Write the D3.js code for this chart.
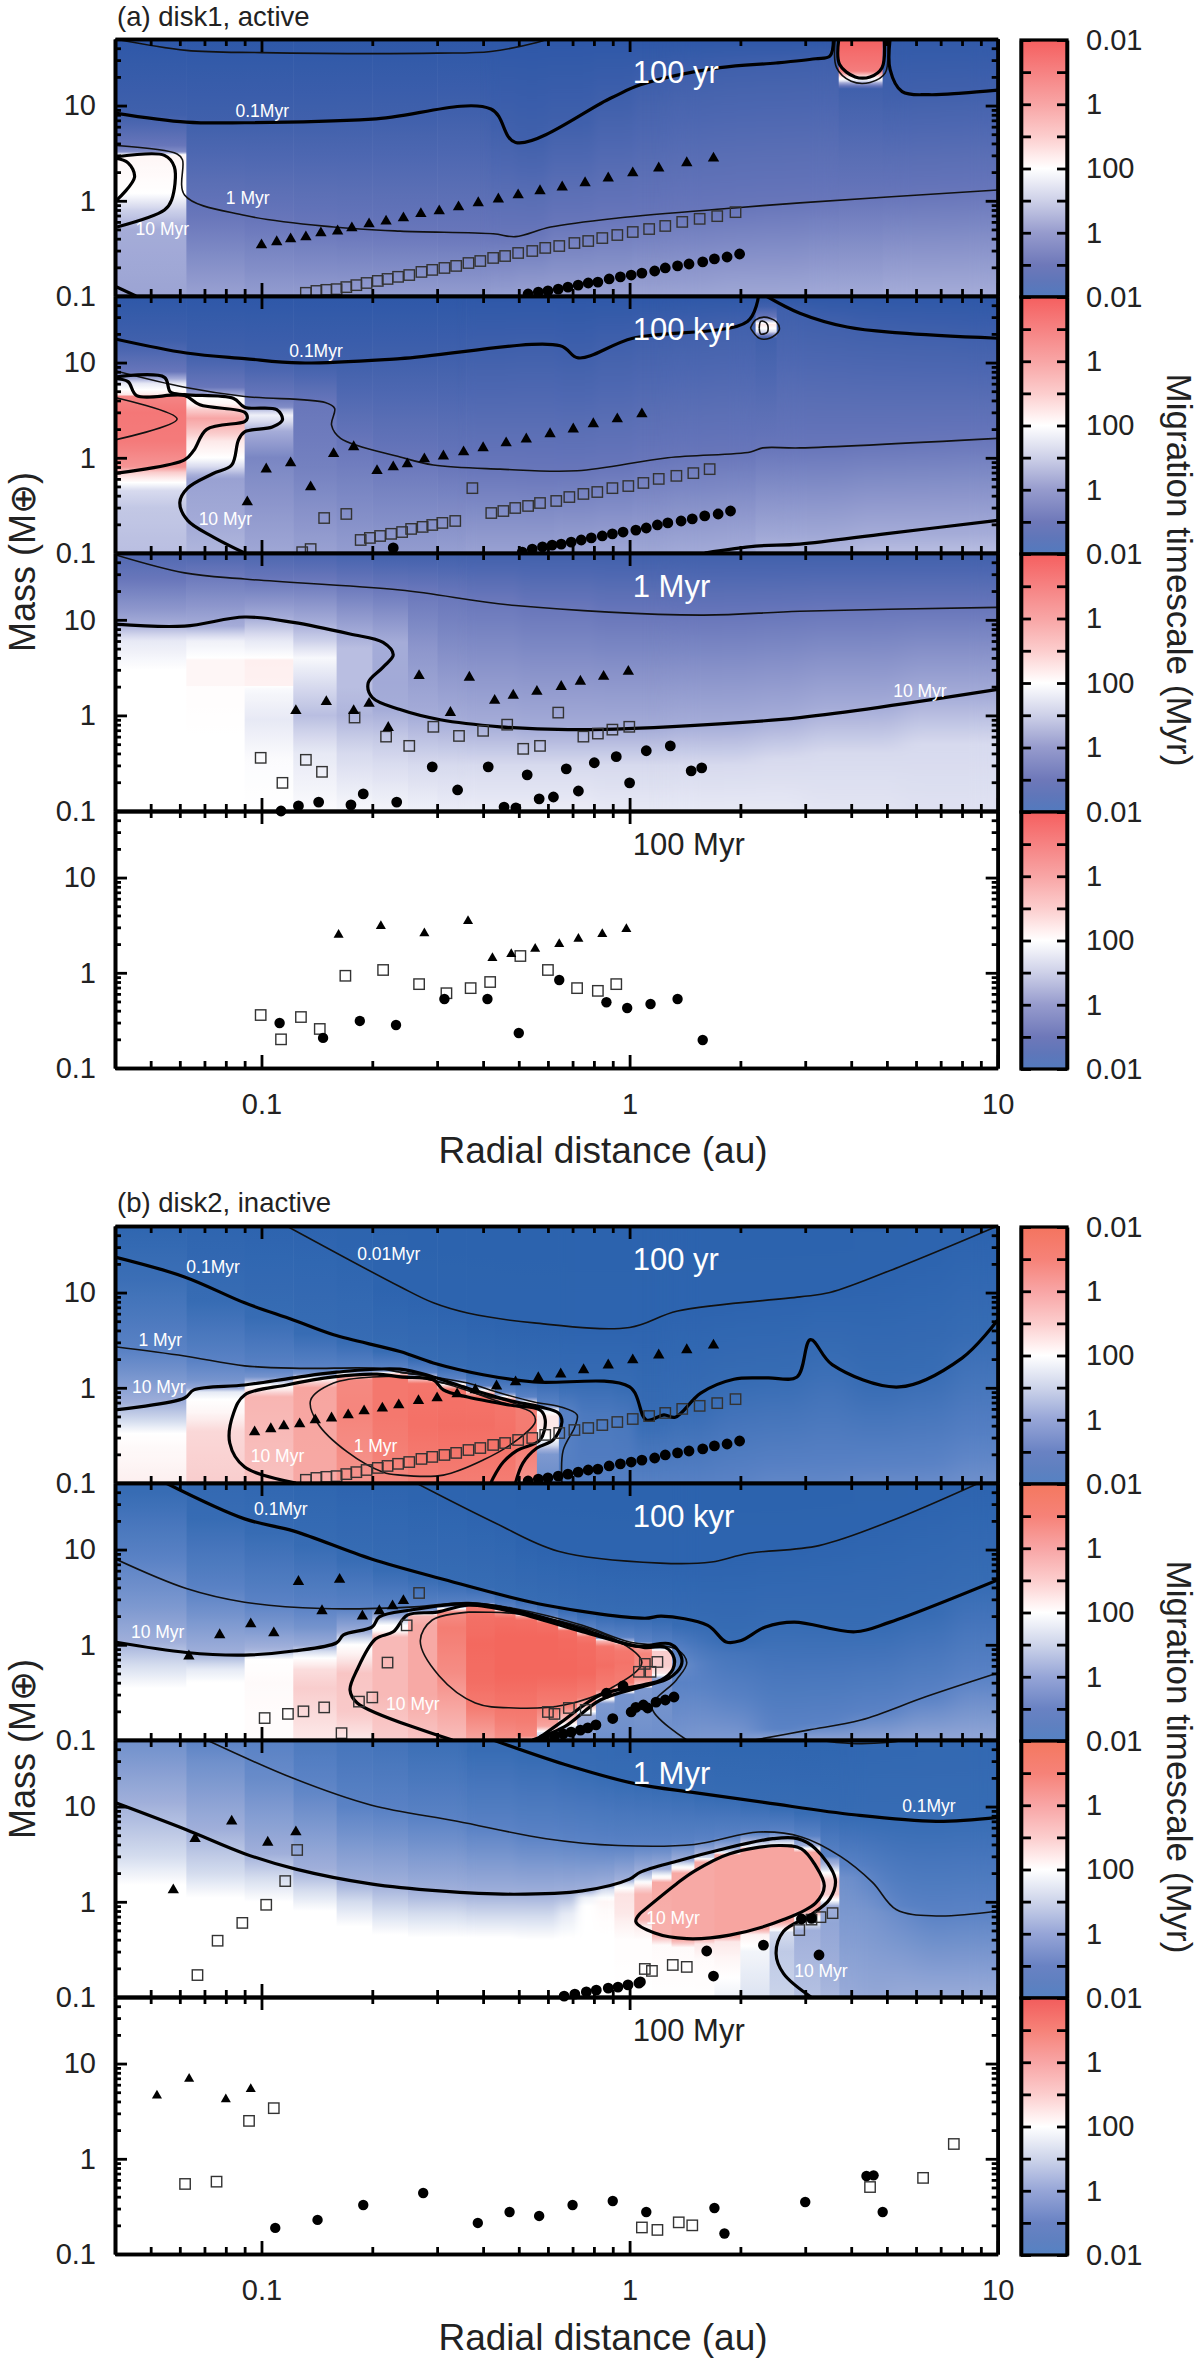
<!DOCTYPE html>
<html><head><meta charset="utf-8">
<script src="https://cdnjs.cloudflare.com/ajax/libs/d3/7.8.5/d3.min.js"></script>
<style>html,body{margin:0;background:#fff}svg{display:block}text{font-family:"Liberation Sans",Arial,sans-serif}</style>
</head><body><div id="c"></div>
<script>
// ---- axis values
const xMajor=[0.1,1,10], xMinor=[.05,.06,.07,.08,.09,.2,.3,.4,.5,.6,.7,.8,.9,2,3,4,5,6,7,8,9];
const yMajor=[0.1,1,10], yMinor=[.2,.3,.4,.5,.6,.7,.8,.9,2,3,4,5,6,7,8,9,20,30,40];
const barTicks=[4,3,2,1,0,-1,-2,-3,-4], barLabels={4:"0.01",2:"1",0:"100","-2":"1","-4":"0.01"};
// ---- colour scale: q = signed (2 - log10 T[Myr]); q>0 outward, q<0 inward
const qNodes=[-5,-4,-3,-2,-1,-.5,0,.5,1,2,3,4];
const qColorsA=["#2c57a6","#2e58a8","#4060ac","#6876ba","#a5acd8","#d7daee","#ffffff","#fde8e8","#facdcd","#f7a5a5","#f47d7d","#f46060"];
const qColorsB=["#2b62ac","#2d64af","#376cb4","#5a82c5","#a0afda","#d4dcee","#ffffff","#fce8e8","#f9cdcd","#f7a5a0","#f47d73","#f3645a"];
const barQ=[-4,-3.5,-3,-2,-1,0,.3,1,2,3,4];
const barA=["#527abe","#5f76b9","#6e78b9","#969bcd","#cdd0e8","#ffffff","#fff0f0","#fccdcd","#f8a5a5","#f68282"];
const barB=["#5582c3","#5f80c0","#6982c3","#96a5d7","#cdd4ea","#ffffff","#fff0f0","#fccdcd","#f8a5a5","#f68278"];
const barTopA=["#f55f5f","#f55f5f","#f55f5f","#f55f5f"], barTopB=["#f4745f","#f4785f","#f4785f","#f25c5c"];

// ---- heat-map columns: edges in au, each column = [mass, q, mass, q, ...]
const a1Edges=[.04,.0625,.09,.122,.16,.2,.3,.42,.49,.6,.8,1.03,1.3,1.7,2.2,3,3.7,4.85,6,8,10];
const a1Cols=[
[.1,-1.15,.5,-1,.8,-.6,1.2,0,3,.2,3.3,-1.6,3.8,-2,8,-3,50,-4],
[.1,-1.2,.7,-2,6.7,-3,50,-4],[.1,-1.3,.62,-2,6.8,-3,50,-4],[.1,-1.3,.54,-2,7,-3,50,-4],[.1,-1.3,.5,-2,7.2,-3,50,-4],
[.1,-1.3,.48,-2,7.5,-3,50,-4],[.1,-1.3,.46,-2,8.5,-3,50,-4],[.1,-1.25,.43,-2,6,-3,50,-4],[.1,-1.2,.44,-2,4.5,-3,50,-4],
[.1,-1.2,.58,-2,6.5,-3,50,-4],[.1,-1.2,.66,-2,10.5,-3,50,-4],[.1,-1.15,.7,-2,16,-3,50,-4],[.1,-1.15,.77,-2,21,-3,50,-4],
[.1,-1.1,.84,-2,25,-3,50,-4],[.1,-1.1,.92,-2,27,-3,50,-4],[.1,-1.05,1,-2,29,-3,50,-4],
[.1,-1.05,1.05,-2,15,-3,18,-.5,20,.5,23,3,50,4],[.1,-1,1.1,-2,13,-3,50,-3.8],[.1,-1,1.15,-2,14,-3,50,-3.8],[.1,-1,1.25,-2,15,-3,50,-3.8]];
const a2Edges=[.04,.0625,.09,.122,.16,.2,.3,.36,.49,.64,.81,1.03,1.3,1.7,2.2,2.5,3,4,5.5,7.5,10];
const a2Cols=[
[.1,-.8,.3,-.7,.45,-.5,.55,0,.7,1,.8,2.4,1.5,3.1,3,3.2,4.4,2.8,4.6,.5,5.2,0,6,-.3,7,-1.2,8,-2,17,-3,50,-4],
[.1,-.9,.6,-1.2,.8,-.5,1,0,1.5,.5,2.2,1.6,2.6,2,3.2,1,3.7,.2,4.3,0,4.6,-1,5.5,-2,12.6,-3,50,-4],
[.1,-1.1,1,-1.7,1.9,-1,2.4,-.5,2.8,-.2,3.2,-.8,3.4,-1.6,4.4,-2,11,-3,50,-4],
[.1,-1.2,.8,-1.8,3.8,-2,9.9,-3,50,-4],[.1,-1.3,1.4,-2,10,-3,50,-4],[.1,-1.3,1,-2,11,-3,50,-4],[.1,-1.25,.82,-2,11.5,-3,50,-4],
[.1,-1.2,.77,-2,13,-3,50,-4],[.1,-1.2,.74,-2,14,-3,50,-4],[.1,-1.15,.73,-2,11.8,-3,50,-4],[.1,-1.1,.8,-2,16,-3,50,-4],
[.1,-1.1,.98,-2,20,-3,50,-4],[.1,-1.05,1.05,-2,23,-3,50,-4],[.1,-1,1.13,-2,27,-3,50,-4],
[.1,-.9,1.27,-2,18,-3,21,-.5,25,.5,30,-2,50,-4],[.1,-.9,1.27,-2,35,-3,50,-4],[.1,-.9,1.3,-2,27,-3,50,-4],[.1,-.8,1.38,-2,22,-3,50,-4],[.1,-.8,1.45,-2,20,-3,50,-4],[.1,-.8,1.55,-2,18,-3,50,-4]];
const a3Edges=[.04,.0625,.09,.122,.16,.2,.25,.3,.36,.5,.8,1.3,2.2,3,5.5,10];
const a3Cols=[
[.1,0,3,0,6,-.3,9,-1,13,-1.4,27,-2,50,-2.6],
[.1,0,.5,0,2,.05,2.05,.2,3.8,.2,4,0,6,-.2,8.6,-1,14,-1.4,31,-2,50,-2.7],
[.1,0,.35,-.05,.9,-.3,1.8,-.1,2.05,0,2.05,.3,3.8,.35,4,0,6,-.3,10.5,-1,15,-1.4,27,-2,50,-2.7],
[.1,-.05,.4,-.3,1,-.8,2,-.5,4,-.1,6,-.6,9.4,-1,27,-2,50,-2.8],
[.1,-.1,.4,-.5,1,-.9,2,-.8,5,-.8,7,-1,24,-2,50,-2.9],
[.1,-.15,.25,-.4,.6,-.7,1.15,-1,2.2,-1.05,5.8,-1,22,-2,50,-3],
[.1,-.2,.3,-.5,1,-1,5,-1.4,21,-2,50,-3],[.1,-.25,.3,-.5,.9,-1,19,-2,50,-3],[.1,-.25,.3,-.5,.8,-1,17,-2,50,-3],
[.1,-.25,.3,-.5,.72,-1,14,-2,50,-3],[.1,-.3,.3,-.5,.73,-1,12,-2,50,-3],[.1,-.3,.3,-.5,.8,-1,11.3,-2,50,-3],
[.1,-.3,.35,-.5,.93,-1,12,-2,50,-3],[.1,-.35,.4,-.5,1.2,-1,13,-2,50,-3],[.1,-.4,.5,-.5,1.6,-1,13.5,-2,50,-3]];
const bEdges1=[.04,.0625,.09,.122,.16,.2,.25,.3,.36,.43,.49,.56,.64,.72,.91,1.03,1.3,1.7,2.2,3,4,5.5,7.5,10];
const b1Cols=[
[.1,.35,.25,.1,.33,0,.45,-.5,.7,-1,1.2,-1.5,2.4,-2,14,-2.9,23,-3,50,-3.8],
[.1,1,.35,.8,.55,.2,.75,0,.9,-.3,1,-1.2,1.2,-1.6,1.9,-2,8,-3,50,-3.9],
[.1,1.3,.4,1.5,.8,1.6,.95,.5,1.05,0,1.2,-1,1.3,-1.6,1.6,-2,5.5,-3,50,-4],
[.1,1.9,1,2,1.2,.5,1.3,-.5,1.4,-1.5,1.6,-2,3.7,-3,50,-4],
[.1,2.4,.5,2.8,1.2,2.7,1.35,1,1.45,-1,1.55,-2,3,-3,50,-4.2],
[.1,2.7,.5,3.2,1.3,3.2,1.4,1,1.5,-1.5,1.6,-2,2.4,-3,11,-4,50,-4.3],
[.1,2.9,.4,3.5,1.1,3.3,1.25,1,1.35,-1,1.45,-2,2,-3,9,-4,50,-4.5],
[.1,3,.4,3.6,.95,3.4,1.05,1,1.15,-1,1.25,-2,1.7,-3,7,-4,50,-4.5],
[.1,3,.4,3.6,.8,3.4,.9,1,1,-1,1.05,-2,1.4,-3,5.5,-4,50,-4.5],
[.1,3,.3,3.5,.7,3.3,.78,1,.84,-1,.9,-2,1.3,-3,4.8,-4,50,-4.5],
[.1,-1,.11,2.5,.3,3.1,.6,3,.68,1,.74,-1,.8,-2,1.2,-3,4.5,-4,50,-4.5],
[.1,-1.8,.2,-1.5,.25,-.5,.3,0,.4,.5,.5,.5,.6,-.5,.66,-2,1.15,-3,4.4,-4,50,-4.5],
[.1,-2.2,.4,-2.1,.55,-2.1,.6,-2.2,1.1,-3,4.3,-4,50,-4.5],
[.1,-2.2,.5,-2.4,.9,-2.8,1.05,-3,4.3,-4,50,-4.5],
[.1,-2.2,.5,-2.5,1.02,-3,4.3,-4,50,-4.5],
[.1,-2.1,.46,-3,.6,-3.1,5,-4,50,-4.5],[.1,-2.1,.6,-3,6.5,-4,50,-4.5],[.1,-2,1.1,-3,7.5,-4,50,-4.5],[.1,-1.9,1.3,-3,8.5,-4,50,-4.5],
[.1,-1.9,2.2,-3,10,-4,50,-4.4],[.1,-1.8,1.1,-3,13,-4,50,-4.3],[.1,-1.8,1.5,-3,20,-4,50,-4.2],[.1,-1.7,3.5,-3,38,-4,50,-4.1]];
const bEdges2=[.04,.0625,.09,.122,.16,.2,.25,.3,.36,.43,.49,.56,.64,.72,.81,.91,1.03,1.15,1.3,1.45,1.7,2.2,3,4,5.5,7.5,10];
const b2Cols=[
[.1,0,.35,0,.55,-.4,1.07,-1,2.5,-1.5,8,-2,40,-3,50,-3.1],
[.1,0,.4,0,.55,-.3,.8,-1,2,-1.6,3.9,-2,21,-3,50,-3.4],
[.1,.05,.4,.1,.7,0,.86,-.9,1.5,-1.5,2.8,-2,15,-3,50,-3.6],
[.1,.5,.35,1,.55,.7,.7,.1,.85,-.5,1,-1.1,1.5,-1.6,2.5,-2,11,-3,50,-3.8],
[.1,.5,.2,1.1,.5,1.2,.8,.3,1,0,1.15,-.5,1.4,-1.1,2.4,-2,8,-3,50,-4],
[.1,1,.3,1.5,1.2,1.5,1.4,.1,1.6,0,1.9,-.9,2.4,-2,6,-3,50,-4],
[.1,1.2,.3,1.9,1.6,1.9,2,1.5,2.2,-1,2.5,-2,5,-3,50,-4.2],
[.1,1.4,.3,2.2,.5,2.6,1.5,3,2.2,2.6,2.4,0,2.6,-2,4.5,-3,35,-4,50,-4.2],
[.1,2,.25,3.2,.4,3.6,1,3.8,2,3.5,2.5,3,2.65,0,2.75,-2,4,-3,25,-4,50,-4.3],
[.1,2.5,.22,3.3,.5,3.9,1.2,3.9,1.9,3.6,2.25,2,2.35,-1,2.45,-2,3.4,-3,20,-4,50,-4.3],
[.1,1,.11,2.7,.22,3.3,.5,3.9,1.2,3.9,1.8,3.6,2,2,2.1,-1,2.2,-2,3,-3,12,-4,50,-4.5],
[.1,-1,.12,-.3,.14,2,.23,3,.5,3.9,1.2,3.9,1.7,3.5,1.8,2,1.9,-1,2,-2,2.7,-3,10,-4,50,-4.5],
[.1,-1.5,.13,-1,.16,1,.23,3,.5,3.9,1.1,3.8,1.4,3.5,1.5,1,1.6,-1,1.7,-2,2.3,-3,9,-4,50,-4.5],
[.1,-1.5,.18,-1,.22,1,.28,3,.5,3.8,1,3.7,1.2,3.3,1.35,1,1.4,-1,1.5,-2,2.1,-3,8,-4,50,-4.5],
[.1,-1.7,.24,-1.5,.27,0,.34,3,.6,3.6,.95,3.3,1.1,1.5,1.15,-1,1.25,-2,2,-3,7.5,-4,50,-4.5],
[.1,-1.7,.3,-1.6,.33,.5,.4,3,.65,3.4,.85,3.2,1,2.5,1.1,-1,1.2,-2,1.9,-3,7.3,-4,50,-4.5],
[.1,-1.7,.35,-1.5,.37,1,.45,2.5,.8,2.8,.98,2,1.02,-1,1.08,-2,1.9,-3,7.2,-4,50,-4.5],
[.1,-1.7,.4,-1.6,.45,-1,.5,.5,.6,1,.85,1,.92,-1,.95,-2,1.8,-3,7.2,-4,50,-4.5],
[.1,-1.6,.4,-2,.6,-1.7,.9,-2,1.6,-3,7.3,-4,50,-4.5],
[.1,-1.5,.65,-2.2,1.5,-3,7.3,-4,50,-4.5],[.1,-1.5,.8,-2.6,1.1,-3,8,-4,50,-4.5],[.1,-1.2,.13,-2,1.6,-3,10,-4,50,-4.5],
[.1,-1.3,.15,-2,1.5,-3,13,-4,50,-4.4],[.1,-1.3,.2,-2,1.5,-3,19,-4,50,-4.3],[.1,-1.2,.28,-2,2.1,-3,30,-4,50,-4.2],[.1,-1.2,.45,-2,4,-3,50,-4]];
const bEdges3=[.04,.0625,.09,.122,.16,.2,.25,.36,.49,.64,.72,.81,.91,1.03,1.15,1.3,1.5,1.7,2,2.4,2.8,3.3,3.7,4.3,5,6,7.5,10];
const b3Cols=[
[.1,0,1.5,0,3,-.5,11,-1,50,-1.7],[.1,0,1.1,0,2,-.5,5.7,-1,30,-1.7,50,-2],[.1,0,1,0,1.6,-.4,3.2,-1,20,-1.8,45,-2,50,-2.1],
[.1,0,.8,0,1.2,-.4,2.2,-1,14,-1.9,20,-2,50,-2.4],[.1,0,.55,0,1,-.5,1.6,-1,10,-2,50,-2.6],[.1,0,.45,0,.8,-.5,1.5,-1,9,-2,50,-2.7],
[.1,0,.42,0,.75,-.5,1.3,-1,7.5,-2,50,-2.9],[.1,0,.42,0,.7,-.5,1.22,-1,6,-2,40,-3,50,-3],[.1,0,.4,0,.7,-.5,1.2,-1,5,-2,32,-3,50,-3.1],
[.1,0,.42,0,.75,-.3,1.25,-1,4.6,-2,26,-3,50,-3.2],[.1,0,.4,0,.9,0,1.1,-.2,1.3,-1,4.3,-2,23,-3,50,-3.3],
[.1,0,.45,0,.8,.1,1,.2,1.35,-.5,1.45,-1,4,-2,20,-3,50,-3.4],[.1,0,.4,.05,.6,.3,.75,.5,1.2,.6,1.5,-.3,1.7,-1,3.9,-2,18,-3,50,-3.5],
[.1,0,.4,.05,.55,.4,.65,1.6,1.2,1.6,1.4,.8,1.75,-.5,2.05,-1,4,-2,16.5,-3,50,-3.5],
[.1,0,.35,.1,.45,1.7,1.6,1.9,1.75,.3,2.2,-1,4,-2,15.5,-3,50,-3.6],[.1,0,.33,.1,.4,1.9,2,1.9,2.2,.3,2.7,-1,4.2,-2,14,-3,50,-3.7],
[.1,0,.25,.1,.36,.5,.42,1.9,2.6,1.9,2.9,-.5,3.3,-1,4.5,-2,12.5,-3,50,-3.7],[.1,-.2,.25,.2,.38,.5,.44,2,3.1,2,3.3,-.3,3.6,-1,4.8,-2,12,-3,50,-3.8],
[.1,-.4,.3,-.15,.45,.3,.52,2,3.6,2,3.8,-.2,4.4,-1,5.2,-2,10.5,-3,50,-3.8],[.1,-.6,.3,-.7,.48,-.5,.62,2,3.8,2,4,-.2,4.6,-1,5.5,-2,9.5,-3,50,-3.9],
[.1,-.8,.5,-1,.7,.2,.8,2,3.3,2,3.6,0,3.9,-1,4.9,-2,8.6,-3,50,-3.9],[.1,-.9,.6,-1.2,.9,-1,1.2,1,1.7,1,2.2,-.5,2.8,-1.4,3,-2,8,-3,50,-3.8],
[.1,-1.1,1.8,-1.7,2.4,-2,7.5,-3,50,-3.7],[.1,-1.2,.8,-1.6,1.7,-2,7.2,-3,50,-3.6],[.1,-1.1,.75,-1.8,.9,-2,7,-3,50,-3.6],[.1,-1.1,.72,-2,7,-3,50,-3.5],[.1,-1.1,.8,-2,7.7,-3,50,-3.5]];

// ---- contours: [au, mass, au, mass, ...]
const a1Thin=[
[.04,50,.0625,38,.1,36,.3,35.5,.42,37,.56,46,.6,50],
[.0405,3.8,.059,3.1,.061,2.7,.0618,1.15,.0905,.7,.157,.53,.238,.48,.426,.45,.49,.42,.61,.53,.93,.66,1.92,.84,2.9,.95,10,1.3],
[3.62,50,3.65,25,4,18,4.5,17.5,4.95,22,5.02,50]];
const a1Thick=[
[.04,8.35,.0625,6.7,.09,6.6,.2,7.2,.42,9.2,.49,4.1,.89,12,1.07,16.5,1.76,25,2.5,28,3.2,31,3.5,33,3.58,50],
[5.1,50,5.1,24,5.5,14,6.5,13,8,13.5,10,14.5],
[.0405,2.9,.0545,3,.058,2.26,.057,1.02,.0545,.8,.0405,.53],
[.04,2.8,.0434,2.5,.0452,1.77,.0405,1.02],
[.04,.127,.0456,.1],
[3.7,50,3.72,27,4.1,20,4.5,20,4.85,25,4.92,50]];
const a2Thin=[
[.04,8.2,.0618,5.5,.09,4.4,.149,3.8,.158,3.3,.155,2.2,.164,1.6,.238,1.02,.293,.84,.445,.76,.72,.73,1.27,1,2.13,1.15,2.3,1.27,2.9,1.27,10,1.6],
[.04,4.3,.059,2.55,.04,1.54],
[2.13,23,2.2,28,2.32,30,2.5,27,2.55,22,2.4,18,2.25,18,2.13,23],
[2.25,23,2.27,27,2.32,27,2.37,25,2.37,21,2.32,20,2.27,20,2.25,23]];
const a2Thick=[
[.04,17.7,.0625,12.6,.09,11,.127,9.9,.238,11,.648,15,.725,11.2,1.02,18,2.09,27,2.24,50],
[2.35,50,2.9,33,3.9,23.6,5.4,20.5,10,18],
[.0405,7.1,.0545,7,.0566,4.9,.0618,4.6,.084,4.2,.09,3.4,.11,3.2,.114,2.5,.107,2.1,.09,1.87,.0866,1.54,.083,.84,.0737,.68,.063,.48,.06,.34,.063,.22,.074,.147,.09,.1],
[.04,6.8,.0434,6.3,.0458,4.5,.0618,4.5,.068,3.6,.09,3,.0915,2.6,.09,2.4,.071,1.99,.0655,1.2,.0618,.95,.0405,.69],
[1.6,.1,2.2,.118,2.9,.124,5,.16,10,.22]];
const a3Thin=[[.04,48,.0618,31,.09,26.7,.238,20.5,.49,14.1,1.56,11.2,2.9,12.3,10,13.5]];
const a3Thick=[[.04,9,.0618,8.6,.09,10.7,.122,9.4,.174,7.1,.214,5.8,.228,4.3,.214,3.2,.195,2.2,.2,1.54,.238,1.15,.306,.9,.445,.76,.68,.71,1.27,.76,2.9,.95,10,1.87]];
const b1Thin=[
[.117,50,.238,11.5,.293,7.8,.363,6.1,.55,4.8,1,4.3,1.35,6.4,2.9,9,3.5,10,5.4,18.6,10,50],
[.04,2.7,.0618,2.16,.09,1.7,.127,1.6,.206,1.6,.238,1.46,.293,1.3,.363,1.12,.445,.88,.55,.71,.65,.63,.72,.52,.71,.39,.66,.22,.655,.1],
[.238,1.45,.293,1.27,.3,1.17,.363,1,.37,.92,.47,.72,.49,.68,.571,.6],
[.2,1.3,.157,1.12,.136,.74,.142,.427,.171,.212,.214,.13,.238,.121,.312,.121,.4,.174,.495,.283,.554,.437,.544,.544,.445,.71,.312,1.12,.26,1.3,.2,1.3]];
const b1Thick=[
[.04,23.6,.0618,14.6,.09,7.8,.122,5.15,.157,3.6,.238,2.4,.293,1.82,.4,1.37,.55,1.15,1,1.02,1.11,.46,1.24,.52,1.33,.49,1.56,.88,1.92,1.23,2.37,1.27,2.85,1.3,3.1,3.2,3.55,1.75,5.4,1.02,8,2.05,10,5.15],
[.04,.585,.0618,.78,.0655,.95,.09,1.07,.122,1.27,.16,1.46,.238,1.57,.293,1.3,.363,.99,.47,.74,.571,.63,.64,.544,.655,.437,.62,.283,.56,.233,.513,.162,.49,.1],
[.124,.1,.09,.147,.082,.263,.084,.544,.09,.84,.117,1.07,.157,1.3,.206,1.39,.238,1.3,.293,1.21,.312,.95,.363,.8,.47,.66,.571,.585,.59,.46,.571,.283,.495,.22,.454,.166,.426,.113,.42,.1]];
const b2Thin=[
[.263,50,.426,19.5,.64,9.6,1.21,7.2,1.67,7.4,2.09,9.1,3.27,11,5.1,19.8,8.9,50],
[.04,8,.0625,3.9,.09,2.8,.146,2.4,.26,2.5,.365,2.78,.486,2.4,.744,1.6,1,1.07,1.34,.9,1.43,.65,1.34,.427,1.15,.22,1.43,.1],
[2.18,.1,3.05,.127,4.25,.162,6.4,.286,10,.505],
[.365,2.2,.291,1.82,.27,1.1,.304,.47,.381,.245,.486,.217,.664,.233,.89,.35,1.08,.65,.91,1.15,.534,2.05,.365,2.2]];
const b2Thick=[
[.055,50,.09,21,.122,15.7,.198,8,.304,5,.593,2.6,1.1,1.9,1.22,2,1.63,1.6,1.83,1.07,2,1.1,2.34,1.54,2.8,1.73,4.1,1.37,5.1,1.73,10,4.8],
[.04,1.07,.0625,.83,.09,.78,.122,.86,.16,1.05,.167,1.27,.2,1.54,.209,1.96,.255,2.32,.365,2.7,.486,2.32,.744,1.46,1.04,.97,1.29,1.02,1.38,.76,1.38,.6,1.28,.447,1.1,.37,.833,.263,.664,.137,.545,.1],
[.33,.1,.182,.245,.174,.335,.182,.55,.204,1.15,.228,1.37,.249,2.05,.3,2.2,.365,2.6,.486,2.2,.744,1.37,1.09,.94,1.25,.94,1.32,.73,1.31,.55,1.22,.427,1.09,.38,.833,.297,.652,.154,.558,.1]];
const b3Thin=[
[.071,50,.122,19.8,.198,10.4,.34,7,.593,4.6,.93,3.9,1.5,4,2.24,5.4,2.93,4.8,3.74,3,4.57,1.6,5.3,.83,6.8,.71,10,.8],
[3.2,50,4,46,5,47,5.6,50]];
const b3Thick=[
[.426,50,.664,27.8,1.04,17.3,1.5,14,2.34,11,4.07,8.2,6.8,7,10,7.7],
[.04,11,.0625,5.7,.09,3.2,.124,2.2,.198,1.54,.304,1.3,.486,1.2,.744,1.3,1,1.73,1.07,2.05,1.36,2.7,1.75,3.5,2.45,4.6,2.86,4.6,3.2,3.6,3.62,1.73,3.5,1.07,3.11,.73,2.62,.49,2.5,.287,2.62,.176,3.11,.1],
[1.07,.76,1.34,1.54,1.5,2.1,1.87,3.2,2.55,3.9,2.93,3.6,3.2,2.4,3.38,1.46,3.2,.97,2.62,.65,1.87,.447,1.43,.41,1.17,.47,1.04,.62,1.07,.76]];
const a4Thin=[],a4Thick=[],b4Thin=[],b4Thick=[];

// ---- planets: [au, mass, ...]
const a1Tri=[.1,.343,.11,.37,.12,.397,.132,.417,.145,.459,.161,.48,.176,.518,.196,.57,.218,.61,.243,.66,.271,.73,.304,.78,.343,.86,.388,.95,.44,1.04,.498,1.15,.571,1.27,.656,1.39,.757,1.54,.875,1.73,1.02,1.96,1.2,2.2,1.43,2.5,1.69,2.8];
const a1Sq=[.132,.108,.141,.113,.15,.116,.16,.118,.17,.124,.181,.13,.193,.137,.207,.144,.22,.151,.235,.159,.252,.166,.272,.179,.291,.188,.314,.197,.338,.207,.365,.222,.393,.233,.426,.251,.459,.263,.498,.283,.544,.297,.59,.32,.644,.335,.708,.36,.772,.378,.843,.406,.926,.437,1.02,.47,1.13,.505,1.25,.544,1.39,.6,1.55,.646,1.73,.69,1.94,.76];
const a1Circ=[.53,.105,.565,.11,.6,.113,.64,.118,.68,.124,.725,.13,.772,.137,.82,.14,.88,.151,.944,.159,1.01,.166,1.08,.174,1.17,.183,1.25,.197,1.35,.207,1.45,.217,1.58,.228,1.7,.245,1.84,.257,1.99,.276];
const a2Tri=[.0915,.343,.103,.76,.12,.88,.136,.494,.157,1.1,.178,1.3,.206,.73,.228,.8,.249,.86,.277,.97,.312,1.04,.354,1.15,.4,1.27,.462,1.43,.524,1.57,.608,1.78,.703,2,.797,2.27,.926,2.55,1.08,2.88];
const a2Sq=[.129,.102,.136,.11,.148,.233,.17,.257,.186,.137,.197,.144,.21,.151,.225,.159,.241,.166,.255,.179,.274,.188,.291,.197,.31,.207,.336,.217,.374,.48,.421,.263,.454,.276,.489,.297,.53,.312,.571,.335,.632,.352,.686,.387,.749,.417,.817,.437,.898,.48,.992,.505,1.09,.544,1.2,.6,1.34,.646,1.49,.69,1.65,.76];
const a2Circ=[.228,.113,.511,.102,.544,.11,.58,.116,.616,.121,.652,.124,.694,.13,.739,.137,.787,.144,.843,.151,.898,.159,.96,.166,1.04,.174,1.11,.183,1.19,.197,1.27,.207,1.38,.217,1.48,.228,1.6,.245,1.74,.257,1.88,.276];
const a3Tri=[.124,1.12,.15,1.39,.178,1.12,.196,1.33,.221,.745,.268,2.6,.367,2.5,.326,1.07,.43,1.43,.483,1.62,.56,1.78,.652,2,.735,2.27,.85,2.55,.992,2.88];
const a3Sq=[.0995,.36,.114,.197,.132,.343,.146,.257,.179,.95,.218,.6,.252,.48,.293,.76,.344,.61,.4,.69,.465,.8,.514,.447,.571,.48,.64,1.07,.749,.6,.82,.646,.898,.71,.998,.76];
const a3Circ=[.113,.1,.126,.113,.143,.124,.175,.116,.189,.151,.233,.124,.341,.166,.456,.11,.491,.108,.568,.134,.621,.14,.726,.162,1,.197,.291,.29,.413,.29,.527,.239,.673,.276,.802,.32,.92,.37,1.11,.427,1.29,.48,1.47,.263,1.57,.283];
const a4Tri=[.162,2.5,.211,3.1,.277,2.6,.364,3.5,.424,1.43,.477,1.57,.554,1.78,.644,2,.726,2.27,.843,2.55,.98,2.88];
const a4Sq=[.0995,.36,.113,.2,.128,.343,.144,.257,.169,.93,.214,1.07,.268,.76,.318,.61,.37,.69,.418,.8,.505,1.5,.6,1.07,.72,.69,.82,.646,.92,.76];
const a4Circ=[.112,.297,.147,.207,.185,.312,.232,.283,.314,.53,.411,.53,.5,.233,.644,.84,.865,.49,.985,.427,1.14,.47,1.35,.53,1.58,.197];
const b1Tri=[.0958,.343,.106,.37,.115,.397,.127,.417,.14,.459,.155,.48,.172,.518,.19,.57,.213,.61,.236,.66,.267,.73,.3,.78,.34,.86,.381,.95,.435,1.04,.49,1.15,.565,1.27,.65,1.39,.75,1.54,.875,1.73,1.02,1.96,1.2,2.2,1.43,2.5,1.69,2.8];
const b1Sq=a1Sq, b1Circ=a1Circ;
const b2Tri=[.0635,.76,.077,1.27,.0935,1.65,.108,1.33,.126,4.6,.146,2.27,.163,4.85,.188,2,.209,2.27,.227,2.55,.243,2.9];
const b2Sq=[.268,3.5,.22,.65,.248,1.6,.2,.28,.184,.253,.148,.22,.13,.2,.118,.188,.102,.17,.165,.118,.6,.197,.625,.188,.684,.217,.76,.207,1.06,.52,1.14,.52,1.19,.66,1.1,.63];
const b2Circ=[.583,.102,.625,.11,.66,.116,.694,.121,.735,.127,.77,.134,.81,.144,.865,.31,.96,.37,.9,.168,1.01,.197,1.04,.22,1.09,.233,1.12,.217,1.18,.25,1.25,.263,1.32,.283];
const b3Tri=[.0576,1.33,.066,4.6,.083,7,.104,4.2,.124,5.4];
const b3Sq=[.067,.17,.076,.39,.0887,.6,.103,.93,.116,1.65,.125,3.5,1.1,.197,1.15,.188,1.31,.217,1.43,.207,2.89,.505,3.12,.65,3.3,.69,3.56,.76];
const b3Circ=[.664,.102,.71,.107,.763,.113,.812,.118,.875,.124,.93,.127,.99,.134,1.06,.14,1.07,.144,1.62,.304,1.69,.166,2.31,.35,2.93,.66,3.12,.67,3.27,.276];
const b4Tri=[.052,4.6,.0636,6.9,.08,4.2,.0935,5.4];
const b4Sq=[.062,.544,.0755,.575,.0925,2.5,.108,3.4,1.08,.19,1.19,.179,1.36,.215,1.48,.2,4.5,.505,6.27,.63,7.6,1.43];
const b4Circ=[.109,.188,.142,.228,.189,.327,.275,.437,.387,.212,.472,.276,.568,.251,.7,.327,.9,.36,1.11,.276,1.7,.304,1.81,.164,3,.352,4.4,.66,4.6,.67,4.87,.276];

// ---- in-panel labels: [text, au, mass]
const a1Small=[["0.1Myr",.085,7.6],["1 Myr",.08,.92],["10 Myr",.0455,.437]];
const a2Small=[["0.1Myr",.119,11.5],["10 Myr",.0675,.197]];
const a3Small=[["10 Myr",5.2,1.54]];
const b1Small=[["0.1Myr",.0625,16],["0.01Myr",.182,22],["1 Myr",.0463,2.75],["10 Myr",.0445,.88],["10 Myr",.0935,.166],["1 Myr",.178,.212]];
const b2Small=[["0.1Myr",.0955,23],["10 Myr",.0442,1.18],["10 Myr",.218,.207]];
const b3Small=[["0.1Myr",5.5,8.8],["10 Myr",1.11,.585],["10 Myr",2.8,.162]];
const timeLabels=["100 yr","100 kyr","1 Myr","100 Myr"];

const panels=[
{b:296,t:39,i:0,disk:"a",edges:a1Edges,cols:a1Cols,thin:a1Thin,thick:a1Thick,tri:a1Tri,sq:a1Sq,circ:a1Circ,small:a1Small,barTop:barTopA[0]},
{b:553,t:296,i:1,disk:"a",edges:a2Edges,cols:a2Cols,thin:a2Thin,thick:a2Thick,tri:a2Tri,sq:a2Sq,circ:a2Circ,small:a2Small,barTop:barTopA[1]},
{b:811,t:553,i:2,disk:"a",edges:a3Edges,cols:a3Cols,thin:a3Thin,thick:a3Thick,tri:a3Tri,sq:a3Sq,circ:a3Circ,small:a3Small,barTop:barTopA[2]},
{b:1068,t:811,i:3,disk:"a",edges:null,cols:null,thin:a4Thin,thick:a4Thick,tri:a4Tri,sq:a4Sq,circ:a4Circ,small:[],barTop:barTopA[3]},
{b:1483,t:1226,i:0,disk:"b",edges:bEdges1,cols:b1Cols,thin:b1Thin,thick:b1Thick,tri:b1Tri,sq:b1Sq,circ:b1Circ,small:b1Small,barTop:barTopB[0]},
{b:1740,t:1483,i:1,disk:"b",edges:bEdges2,cols:b2Cols,thin:b2Thin,thick:b2Thick,tri:b2Tri,sq:b2Sq,circ:b2Circ,small:b2Small,barTop:barTopB[1]},
{b:1997,t:1740,i:2,disk:"b",edges:bEdges3,cols:b3Cols,thin:b3Thin,thick:b3Thick,tri:b3Tri,sq:b3Sq,circ:b3Circ,small:b3Small,barTop:barTopB[2]},
{b:2254,t:1997,i:3,disk:"b",edges:null,cols:null,thin:b4Thin,thick:b4Thick,tri:b4Tri,sq:b4Sq,circ:b4Circ,small:[],barTop:barTopB[3]}];

const svg=d3.select("#c").append("svg").attr("width",1200).attr("height",2361);
const defs=svg.append("defs");
const x=d3.scaleLog().domain([.04,10]).range([115,997.7]);
const pairs=f=>{const o=[];for(let i=0;i<f.length;i+=2)o.push([f[i],f[i+1]]);return o;};

panels.forEach((p,n)=>{
  const y=d3.scaleLog().domain([.1,50]).range([p.b,p.t]);
  const col=d3.scaleLinear().domain(qNodes).range(p.disk==="a"?qColorsA:qColorsB).clamp(true);
  const g=svg.append("g");
  const clip="clip"+n;
  defs.append("clipPath").attr("id",clip).append("rect").attr("x",115).attr("y",p.t).attr("width",882.7).attr("height",p.b-p.t);
  const plot=g.append("g").attr("clip-path",`url(#${clip})`);
  if(p.cols){
    const span=Math.log10(50/.1);
    p.cols.forEach((c,k)=>{
      const st=pairs(c), id=`h${n}_${k}`;
      const gr=defs.append("linearGradient").attr("id",id).attr("gradientUnits","userSpaceOnUse")
        .attr("x1",0).attr("x2",0).attr("y1",p.b).attr("y2",p.t);
      for(let j=0;j<st.length-1;j++){
        const [m0,q0]=st[j],[m1,q1]=st[j+1];
        for(let s=0;s<=6;s++){
          const f=s/6, lm=Math.log10(m0)+f*(Math.log10(m1)-Math.log10(m0)), q=q0+f*(q1-q0);
          gr.append("stop").attr("offset",(lm+1)/span).attr("stop-color",col(q));
        }
      }
    });
    const draw=(parent,test)=>p.cols.forEach((c,k)=>{ if(test(c,k))
      parent.append("rect").attr("x",x(p.edges[k])).attr("y",p.t)
        .attr("width",x(p.edges[k+1])-x(p.edges[k])+.6).attr("height",p.b-p.t).attr("fill",`url(#h${n}_${k})`);});
    const isRed=c=>pairs(c).some(d=>d[1]>=.5);
    const blur=(std,fromAu)=>{
      const id=`blur${n}_${std}`;
      defs.append("filter").attr("id",id).attr("filterUnits","userSpaceOnUse").attr("x",60).attr("y",p.t).attr("width",1000).attr("height",p.b-p.t)
        .attr("color-interpolation-filters","sRGB").append("feGaussianBlur").attr("stdDeviation",std+" 0");
      draw(plot.append("g").attr("filter",`url(#${id})`),(c,k)=>p.edges[k]>=fromAu&&!isRed(c));
    };
    draw(plot,()=>true);
    blur(4,.36);
    blur(12,1.25);
    draw(plot,(c,k)=>isRed(c)&&p.edges[k]>=.36);
  }
  const line=d3.line().x(d=>x(d[0])).y(d=>y(d[1])).curve(d3.curveCatmullRom.alpha(.5));
  p.thin.forEach(c=>plot.append("path").attr("d",line(pairs(c))).attr("fill","none").attr("stroke","#111").attr("stroke-width",1.6));
  p.thick.forEach(c=>plot.append("path").attr("d",line(pairs(c))).attr("fill","none").attr("stroke","#000").attr("stroke-width",3.2));
  p.small.forEach(l=>plot.append("text").attr("x",x(l[1])).attr("y",y(l[2])).attr("fill","#fff").attr("font-size",17.5).text(l[0]));
  g.append("text").attr("x",x(1.02)).attr("y",y(17.2)).attr("fill",p.i===3?"#222":"#fff")
    .attr("font-size",31).text(timeLabels[p.i]);
  const mk=g.append("g");
  pairs(p.sq).forEach(d=>mk.append("rect").attr("x",x(d[0])-5.2).attr("y",y(d[1])-5.2).attr("width",10.4).attr("height",10.4)
    .attr("fill","none").attr("stroke","#333").attr("stroke-width",1.4));
  const tri=d3.symbol().type(d3.symbolTriangle).size(p.i===3?44:56), cir=d3.symbol().type(d3.symbolCircle).size(p.i===3?85:92);
  pairs(p.tri).forEach(d=>mk.append("path").attr("d",tri()).attr("transform",`translate(${x(d[0])},${y(d[1])})`));
  pairs(p.circ).forEach(d=>mk.append("path").attr("d",cir()).attr("transform",`translate(${x(d[0])},${y(d[1])})`));
  // axes
  const style=s=>{s.selectAll("line").attr("stroke","#000").attr("stroke-width",2.8);s.select(".domain").attr("stroke","#000").attr("stroke-width",3.6);
    s.selectAll("text").attr("font-size",29).attr("fill","#222");};
  const ax=g.append("g");
  const fmt=d=>String(d);
  ax.append("g").attr("transform","translate(115,0)").call(d3.axisLeft(y).tickValues(yMajor).tickSizeInner(-12).tickSizeOuter(0).tickPadding(19).tickFormat(fmt)).call(style);
  ax.append("g").attr("transform","translate(115,0)").call(d3.axisLeft(y).tickValues(yMinor).tickSizeInner(-6).tickSizeOuter(0).tickFormat("")).call(style);
  ax.append("g").attr("transform","translate(997.7,0)").call(d3.axisRight(y).tickValues(yMajor).tickSizeInner(-12).tickSizeOuter(0).tickFormat("")).call(style);
  ax.append("g").attr("transform","translate(997.7,0)").call(d3.axisRight(y).tickValues(yMinor).tickSizeInner(-6).tickSizeOuter(0).tickFormat("")).call(style);
  ax.append("g").attr("transform",`translate(0,${p.t})`).call(d3.axisTop(x).tickValues(xMajor).tickSizeInner(-13).tickSizeOuter(0).tickFormat("")).call(style);
  ax.append("g").attr("transform",`translate(0,${p.t})`).call(d3.axisTop(x).tickValues(xMinor).tickSizeInner(-7).tickSizeOuter(0).tickFormat("")).call(style);
  const xb=d3.axisBottom(x).tickValues(xMajor).tickSizeInner(-13).tickSizeOuter(0);
  if(p.i===3) xb.tickPadding(25).tickFormat(fmt); else xb.tickFormat("");
  ax.append("g").attr("transform",`translate(0,${p.b})`).call(xb).call(style);
  ax.append("g").attr("transform",`translate(0,${p.b})`).call(d3.axisBottom(x).tickValues(xMinor).tickSizeInner(-7).tickSizeOuter(0).tickFormat("")).call(style);
  // colour bar
  const bt=p.t+1, bb=p.b+1;
  const bar=d3.scaleLinear().domain([-4,4]).range([bb,bt]);
  const cols=(p.disk==="a"?barA:barB).concat([p.barTop]);
  const bid="bar"+n;
  const bg=defs.append("linearGradient").attr("id",bid).attr("x1",0).attr("x2",0).attr("y1",1).attr("y2",0);
  barQ.forEach((q,k)=>bg.append("stop").attr("offset",(q+4)/8).attr("stop-color",cols[k]));
  g.append("rect").attr("x",1021).attr("y",bt).attr("width",46).attr("height",bb-bt).attr("fill",`url(#${bid})`);
  const labelFmt=d=>{if(d===4&&p.i!==0)return"";return barLabels[d]||"";};
  g.append("g").attr("transform","translate(1067,0)").call(d3.axisRight(bar).tickValues(barTicks).tickSizeInner(-10).tickSizeOuter(0).tickPadding(30).tickFormat(labelFmt)).call(style)
    .call(s=>s.selectAll("text").attr("x",19));
  g.append("g").attr("transform","translate(1021,0)").call(d3.axisLeft(bar).tickValues(barTicks).tickSizeInner(-10).tickSizeOuter(0).tickFormat("")).call(style);
  g.append("rect").attr("x",1021).attr("y",bt).attr("width",46).attr("height",bb-bt).attr("fill","none").attr("stroke","#000").attr("stroke-width",3.2);
});

const T=(s,tx,ty,size,rot,anchor)=>svg.append("text").attr("transform",`translate(${tx},${ty})`+(rot?` rotate(${rot})`:""))
  .attr("font-size",size).attr("fill","#222").attr("text-anchor",anchor||"start").text(s);
T("(a) disk1, active",117,26,27.5);
T("(b) disk2, inactive",117,1212,27.5);
T("Radial distance (au)",603,1163,37,0,"middle");
T("Radial distance (au)",603,2350,37,0,"middle");
T("Mass (M\u2295)",35,562,36,-90,"middle");
T("Mass (M\u2295)",35,1749,36,-90,"middle");
T("Migration timescale (Myr)",1167,570,35,90,"middle");
T("Migration timescale (Myr)",1167,1757,35,90,"middle");
</script></body></html>
